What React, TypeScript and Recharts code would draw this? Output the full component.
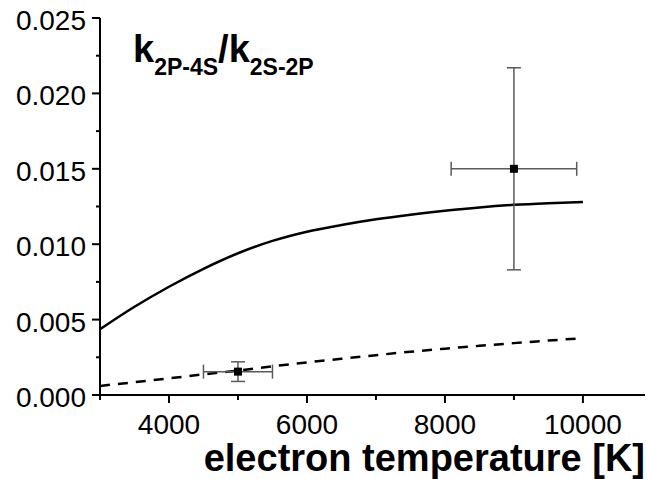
import React from "react";
import {
  ComposedChart,
  Line,
  Scatter,
  ErrorBar,
  XAxis,
  YAxis,
} from "recharts";

// electron temperature grid [K]
const temps = [3000, 3500, 4000, 4500, 5000, 5500, 6000, 6500, 7000, 7500, 8000, 8500, 9000, 9500, 10000];
// solid curve
const solidRatio = [0.00436, 0.00585, 0.00718, 0.00837, 0.0094, 0.01022, 0.01083, 0.01127, 0.01165, 0.01196, 0.01222, 0.01244, 0.01261, 0.01272, 0.0128];
// dashed curve
const dashedRatio = [0.0006, 0.00085, 0.0011, 0.00137, 0.00162, 0.0019, 0.00216, 0.0024, 0.00264, 0.00287, 0.00307, 0.00326, 0.00344, 0.00361, 0.00377];

// measured points with error bars
const measTemp = [5000, 9000];
const measRatio = [0.00155, 0.015];
const measTempErr = [500, 910];
const measRatioErr = [0.00065, 0.0067];

const xTicks = [3000, 4000, 5000, 6000, 7000, 8000, 9000, 10000];
const yTicks = [0, 0.0025, 0.005, 0.0075, 0.01, 0.0125, 0.015, 0.0175, 0.02, 0.0225, 0.025];

const solidData = temps.map((t, i) => ({ t, r: solidRatio[i] }));
const dashedData = temps.map((t, i) => ({ t, r: dashedRatio[i] }));
const measData = measTemp.map((t, i) => ({
  t,
  r: measRatio[i],
  et: measTempErr[i],
  er: measRatioErr[i],
}));

const FONT = '"Liberation Sans", Arial, Helvetica, sans-serif';

function XTick(props: any) {
  const { x, y, payload } = props;
  const v = payload.value as number;
  const major = v % 2000 === 0;
  return (
    <g>
      <line x1={x} y1={y} x2={x} y2={y + (major ? 8 : 5)} stroke="#000" strokeWidth={2} />
      {major && (
        <text x={x} y={y + 39} textAnchor="middle" fontSize={28} fontFamily={FONT} fill="#000">
          {v}
        </text>
      )}
    </g>
  );
}

function YTick(props: any) {
  const { x, y, payload } = props;
  const v = payload.value as number;
  const major = Math.round(v / 0.0025) % 2 === 0;
  return (
    <g>
      <line x1={x - (major ? 8 : 4)} y1={y} x2={x} y2={y} stroke="#000" strokeWidth={2} />
      {major && (
        <text x={x - 14} y={y + 12} textAnchor="end" fontSize={28} fontFamily={FONT} fill="#000">
          {v.toFixed(3)}
        </text>
      )}
    </g>
  );
}

function Square(props: any) {
  const { cx, cy } = props;
  return <rect x={cx - 4} y={cy - 4} width={8} height={8} fill="#000" />;
}

export default function App() {
  return (
    <div style={{ position: "absolute", left: 0, top: 0, width: 646, height: 479, background: "#fff" }}>
      <ComposedChart
        width={646}
        height={479}
        margin={{ top: 18, right: 1, left: 0, bottom: 0 }}
      >
        <XAxis
          type="number"
          dataKey="t"
          domain={[3000, 10900]}
          allowDataOverflow
          ticks={xTicks}
          interval={0}
          height={84}
          tickSize={0}
          tickMargin={0}
          tickLine={false}
          axisLine={{ stroke: "#000", strokeWidth: 2 }}
          tick={<XTick />}
        />
        <YAxis
          type="number"
          domain={[0, 0.025]}
          allowDataOverflow
          ticks={yTicks}
          interval={0}
          width={100}
          tickSize={0}
          tickMargin={0}
          tickLine={false}
          axisLine={{ stroke: "#000", strokeWidth: 2 }}
          tick={<YTick />}
        />
        <Line
          data={solidData}
          dataKey="r"
          type="monotone"
          stroke="#000"
          strokeWidth={2.5}
          dot={false}
          activeDot={false}
          isAnimationActive={false}
        />
        <Line
          data={dashedData}
          dataKey="r"
          type="monotone"
          stroke="#000"
          strokeWidth={2.5}
          strokeDasharray="10 8"
          dot={false}
          activeDot={false}
          isAnimationActive={false}
        />
        <Scatter data={measData} dataKey="r" shape={<Square />} isAnimationActive={false}>
          <ErrorBar dataKey="et" direction="x" width={7} stroke="#5a5a5a" strokeWidth={1.5} isAnimationActive={false} />
          <ErrorBar dataKey="er" direction="y" width={7} stroke="#5a5a5a" strokeWidth={1.5} isAnimationActive={false} />
        </Scatter>
      </ComposedChart>
      <svg
        width={646}
        height={479}
        style={{ position: "absolute", left: 0, top: 0, pointerEvents: "none" }}
      >
        <text x={133} y={62} fontFamily={FONT} fontWeight="bold" fontSize={38} fill="#000">
          k
          <tspan fontSize={23} dy={13}>2P-4S</tspan>
          <tspan fontSize={38} dy={-13}>/k</tspan>
          <tspan fontSize={23} dy={13}>2S-2P</tspan>
        </text>
        <text x={645} y={471} textAnchor="end" fontFamily={FONT} fontWeight="bold" fontSize={38} fill="#000">
          electron temperature [K]
        </text>
      </svg>
    </div>
  );
}
